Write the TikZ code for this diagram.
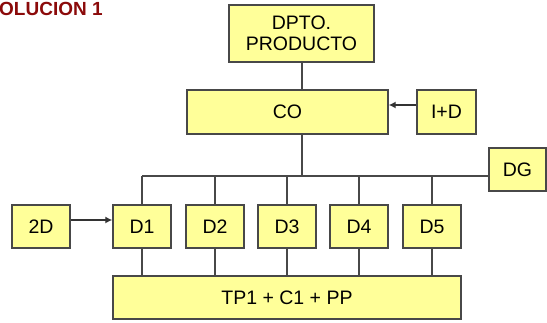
\documentclass[tikz,border=0pt]{standalone}
\usepackage{fontspec}
\setmainfont{Liberation Sans}
\usetikzlibrary{arrows.meta}
\definecolor{boxfill}{HTML}{FFFF99}
\definecolor{boxline}{HTML}{484848}
\definecolor{titlered}{HTML}{8B0A0A}
\tikzset{
  ybox/.style={draw=boxline, line width=1.4pt, fill=boxfill, inner sep=0pt, minimum height=43pt, font=\fontsize{19.5}{21}\selectfont, align=center},
  conn/.style={draw=boxline, line width=1.3pt},
  arr/.style={conn, -{Latex[length=7pt,width=7pt]}, draw=black!80}
}
\begin{document}
\begin{tikzpicture}[x=1pt,y=-1pt]
\useasboundingbox (0,0) rectangle (547,323);
\node[anchor=base west, text=titlered, font=\bfseries\fontsize{19}{22}\selectfont, inner sep=0pt] (title) at (-1,16) {OLUCION 1};
\node[ybox, minimum width=145pt, minimum height=57pt] (dpto) at (301.5,33.5) {DPTO.\\PRODUCTO};
\node[ybox, minimum width=201pt, minimum height=44pt] (co) at (287.5,112) {CO};
\node[ybox, minimum width=59pt, minimum height=44pt] (id) at (446.5,112) {I+D};
\node[ybox, minimum width=57pt] (dg) at (517.5,169.5) {DG};
\node[ybox, minimum width=58pt] (d2d) at (41,226.5) {2D};
\node[ybox, minimum width=58pt] (d1) at (142,226.5) {D1};
\node[ybox, minimum width=58pt] (d2) at (215,226.5) {D2};
\node[ybox, minimum width=58pt] (d3) at (287,226.5) {D3};
\node[ybox, minimum width=58pt] (d4) at (359,226.5) {D4};
\node[ybox, minimum width=58pt] (d5) at (432,226.5) {D5};
\node[ybox, minimum width=348pt] (tp) at (287,297.5) {TP1 + C1 + PP};
\coordinate (bus) at (302,176);
\coordinate (top) at (302,62);
% connectors
\draw[conn] (dpto.south -| top) -- (co.north -| top);
\draw[conn] (co.south -| bus) -- (bus);
\draw[conn] (d1.north |- bus) -- (dg.west |- bus);
\foreach \d in {d1,d2,d3,d4,d5}{
  \draw[conn] (\d.north) -- (\d.north |- bus);
  \draw[conn] (\d.south) -- (\d.south |- tp.north);
}
\draw[arr] ([yshift=7pt]id.west) -- ([yshift=7pt]co.east);
\draw[arr] ([yshift=6.5pt]d2d.east) -- ([yshift=6.5pt]d1.west);
\end{tikzpicture}
\end{document}
